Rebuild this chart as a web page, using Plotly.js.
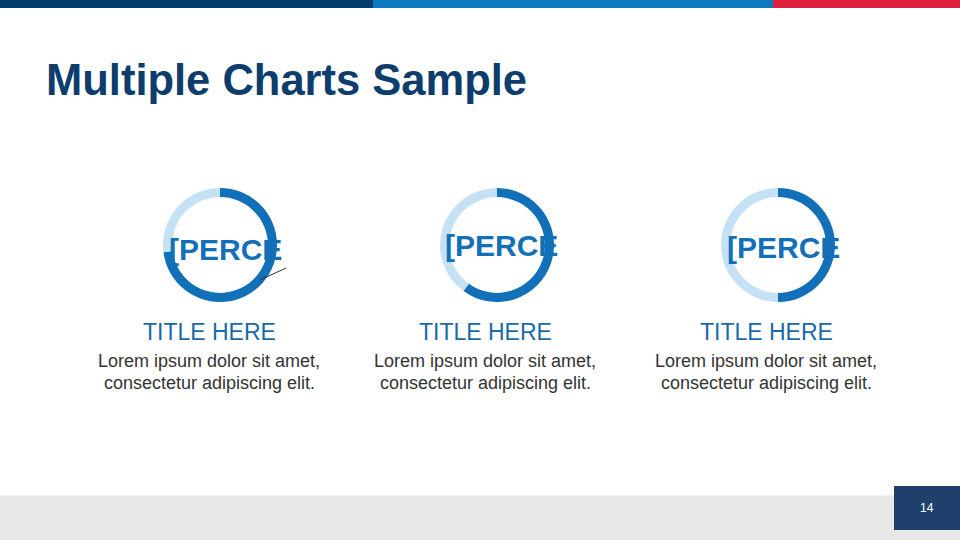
<!DOCTYPE html>
<html>
<head>
<meta charset="utf-8">
<script src="https://cdn.plot.ly/plotly-3.0.1.min.js"></script>
<style>
html,body{margin:0;padding:0;background:#fff;}
#chart{width:960px;height:540px;}
</style>
</head>
<body>
<div id="chart"></div>
<script>
// ---- data ----
const categories = ['Chart 1', 'Chart 2', 'Chart 3'];
const filledValues = [73, 60, 50];
const remainderValues = [27, 40, 50];
const centerLabels = ['[PERCE', '[PERCE', '[PERCE'];
const itemTitles = ['TITLE HERE', 'TITLE HERE', 'TITLE HERE'];
const descLine1 = ['Lorem ipsum dolor sit amet,', 'Lorem ipsum dolor sit amet,', 'Lorem ipsum dolor sit amet,'];
const descLine2 = ['consectetur adipiscing elit.', 'consectetur adipiscing elit.', 'consectetur adipiscing elit.'];
const pageTitle = 'Multiple Charts Sample';
const pageNumber = '14';

// ---- layout helpers ----
const W = 960, H = 540;
const px = x => x / W;
const py = y => 1 - y / H;

const DARK = '#1170b8';
const LIGHT = '#c4e1f6';
const FONT = 'Liberation Sans, Arial, sans-serif';

const donutCenters = [[220, 245], [497, 245], [778, 245]];
const R = 57;
const textCols = [209, 485, 766];
const labelPos = [[225.5, 249], [501, 245], [783, 247]];

const traces = categories.map((c, i) => {
  const [cx, cy] = donutCenters[i];
  return {
    type: 'pie',
    name: c,
    values: [filledValues[i], remainderValues[i]],
    labels: ['Value', 'Remainder'],
    sort: false,
    direction: 'clockwise',
    rotation: 0,
    hole: 0.84,
    textinfo: 'none',
    hoverinfo: 'label+value',
    showlegend: false,
    marker: {colors: [DARK, LIGHT], line: {width: 0}},
    domain: {x: [px(cx - R), px(cx + R)], y: [py(cy + R), py(cy - R)]}
  };
});

const annotations = [];
annotations.push({
  xref: 'paper', yref: 'paper', x: px(44), y: py(80), xanchor: 'left', yanchor: 'middle',
  text: pageTitle, showarrow: false,
  font: {family: FONT, size: 43.5, color: '#0c3d6d', weight: 'bold'}
});
categories.forEach((c, i) => {
  annotations.push({
    xref: 'paper', yref: 'paper', x: px(labelPos[i][0]), y: py(labelPos[i][1]),
    xanchor: 'center', yanchor: 'middle', text: centerLabels[i], showarrow: false,
    font: {family: FONT, size: 30, color: DARK, weight: 'bold'}
  });
  annotations.push({
    xref: 'paper', yref: 'paper', x: px(textCols[i]), y: py(332),
    xanchor: 'center', yanchor: 'middle', text: itemTitles[i], showarrow: false,
    font: {family: FONT, size: 23, color: '#1a69a8'}
  });
  annotations.push({
    xref: 'paper', yref: 'paper', x: px(textCols[i]), y: py(361),
    xanchor: 'center', yanchor: 'middle', text: descLine1[i], showarrow: false,
    font: {family: FONT, size: 18, color: '#333333'}
  });
  annotations.push({
    xref: 'paper', yref: 'paper', x: px(textCols[i]), y: py(383),
    xanchor: 'center', yanchor: 'middle', text: descLine2[i], showarrow: false,
    font: {family: FONT, size: 18, color: '#333333'}
  });
});
annotations.push({
  xref: 'paper', yref: 'paper', x: px(927), y: py(508),
  xanchor: 'center', yanchor: 'middle', text: pageNumber, showarrow: false,
  font: {family: FONT, size: 12, color: '#ffffff'}
});

const rect = (x0, y0, x1, y1, color) => ({
  type: 'rect', xref: 'paper', yref: 'paper', layer: 'below',
  x0: px(x0), x1: px(x1), y0: py(y1), y1: py(y0),
  fillcolor: color, line: {width: 0}
});

const shapes = [
  rect(0, 0, 373, 8, '#033d6d'),
  rect(373, 0, 773, 8, '#0a79bd'),
  rect(773, 0, 960, 8, '#dc1f3a'),
  rect(0, 496, 960, 540, '#e8e8e8'),
  {type: 'line', xref: 'paper', yref: 'paper', x0: 0, x1: 1, y0: py(496), y1: py(496), line: {color: '#e0e0e0', width: 1}, layer: 'below'},
  rect(894, 486, 960, 530, '#1f3f6c'),
  {type: 'line', xref: 'paper', yref: 'paper', x0: px(286), y0: py(268), x1: px(260), y1: py(280), line: {color: '#333333', width: 1}}
];

const layout = {
  width: W, height: H,
  margin: {l: 0, r: 0, t: 0, b: 0},
  paper_bgcolor: '#ffffff',
  plot_bgcolor: '#ffffff',
  showlegend: false,
  annotations: annotations,
  shapes: shapes
};

Plotly.newPlot('chart', traces, layout, {displayModeBar: false, staticPlot: true});
</script>
</body>
</html>
